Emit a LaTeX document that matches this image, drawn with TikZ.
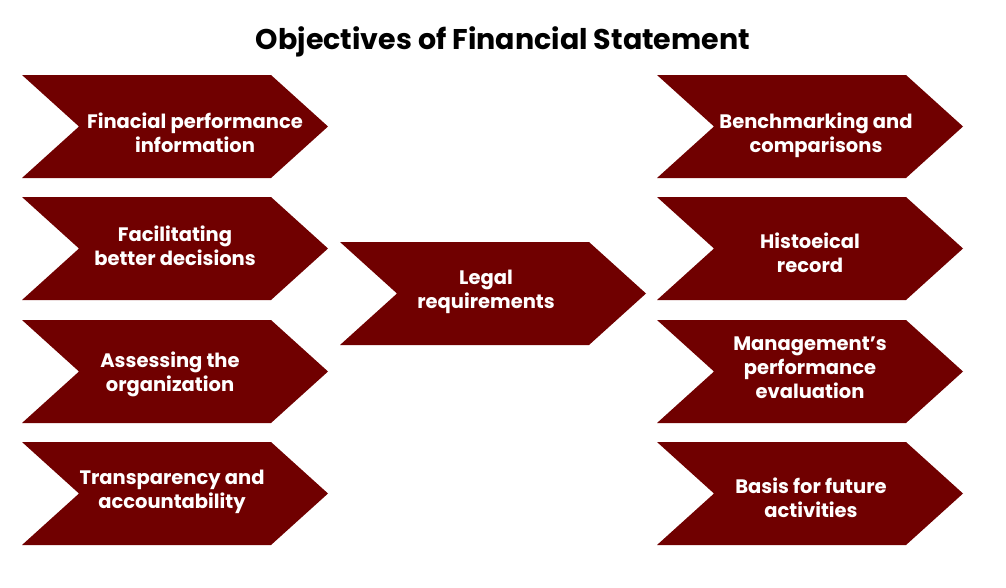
\documentclass[tikz,border=0pt]{standalone}
\usepackage{fontspec}
\setmainfont{Poppins}
\usepackage{xcolor}
\definecolor{darkred}{RGB}{112, 0, 0}

\begin{document}
\begin{tikzpicture}[x=1pt,y=-1pt]
    % Parameters
        \def\cw{306} % chevron width
        \def\ch{103} % chevron height
        \def\cd{57}  % depth of notch and tip
        \tikzset{chevtext/.style={text=white, font=\bfseries\fontsize{19.5}{24}\selectfont, align=center, inner sep=0pt}}

        \useasboundingbox (0,0) rectangle (1006,587);

        % Chevrons
        \foreach \x/\y in {22/75, 22/197, 22/320, 22/442, 340/242, 657/75, 657/197, 657/320, 657/442} {
            \fill[darkred] (\x,\y) -- ++(\cw-\cd,0) -- ++(\cd,\ch/2) -- ++(-\cd,\ch/2)
                -- ++(-\cw+\cd,0) -- ++(\cd,-\ch/2) -- cycle;
        }

        % Left column
        \node[chevtext] (perf) at (195,133) {Finacial performance\\information};
        \node[chevtext] (decide) at (175,246) {Facilitating\\better decisions};
        \node[chevtext] (assess) at (170,374) {Assessing the\\organization};
        \node[chevtext] (transp) at (172,492) {Transparency and\\accountability};

        % Middle
        \node[chevtext] (legal) at (486,292) {Legal\\requirements};

        % Right column
        \node[chevtext] (bench) at (816,135) {Benchmarking and\\comparisons};
        \node[chevtext] (record) at (810,253) {Histoeical\\record};
        \node[chevtext] (mgmt) at (810,368) {Management’s\\performance\\evaluation};
        \node[chevtext] (basis) at (811,498) {Basis for future\\activities};

        % Title
        \node[font=\bfseries\fontsize{28.5}{32}\selectfont] (title) at (503,42) {Objectives of Financial Statement};
    \end{tikzpicture}
\end{document}
